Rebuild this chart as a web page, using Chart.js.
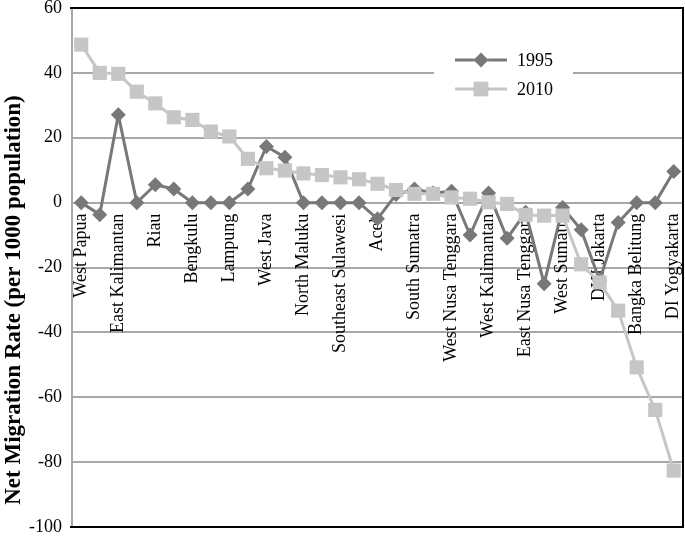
<!DOCTYPE html>
<html>
<head>
<style>
  body { margin: 0; background: #fff; }
  #wrap { width: 685px; height: 539px; }
</style>
</head>
<body>
  <div id="wrap">
    <canvas id="myChart"></canvas>
  </div>

<script src="https://cdnjs.cloudflare.com/ajax/libs/Chart.js/4.4.0/chart.umd.min.js"></script>

<script>
  // provinces, sorted by 2010 rate (only every other one is labelled on the axis)
  const provinces = [
    'West Papua', 'Papua', 'East Kalimantan', 'Riau Islands', 'Riau',
    'Central Kalimantan', 'Bengkulu', 'Banten', 'Lampung', 'Gorontalo',
    'West Java', 'Bali', 'North Maluku', 'West Sulawesi', 'Southeast Sulawesi',
    'Jambi', 'Aceh', 'South Kalimantan', 'South Sumatra', 'Central Sulawesi',
    'West Nusa Tenggara', 'North Sulawesi', 'West Kalimantan', 'South Sulawesi',
    'East Nusa Tenggara', 'Maluku', 'West Sumatra', 'North Sumatra',
    'DKI Jakarta', 'Central Java', 'Bangka Belitung', 'East Java', 'DI Yogyakarta'
  ]

  const rate1995 = [
    0, -3.7, 27.1, 0, 5.5, 4.2, 0, 0, 0, 4.2,
    17.3, 14.0, 0, 0, 0, 0, -5.0, 2.5, 4.2, 3.0,
    3.5, -10.0, 3.0, -11.0, -3.0, -25.0, -1.5, -8.4, -24.0, -6.1,
    0, 0, 9.6
  ]

  const rate2010 = [
    48.7, 40.0, 39.7, 34.2, 30.6, 26.3, 25.5, 21.9, 20.4, 13.5,
    10.6, 9.9, 9.0, 8.5, 7.8, 7.2, 5.8, 3.9, 2.7, 2.7,
    1.6, 1.2, 0.1, -0.4, -3.8, -4.0, -4.0, -19.0, -24.6, -33.3,
    -50.8, -63.9, -82.6
  ]

  const yTicks = [60, 40, 20, 0, -20, -40, -60, -80, -100]
  const seriesNames = ['1995', '2010']

  const dark = '#787878'
  const light = '#c6c6c6'
  const serif = "'Liberation Serif', 'Times New Roman', serif"

  // black frame on top / right / bottom, plus y title and the legend inside the plot
  const extras = {
    id: 'extras',
    afterDraw(chart) {
      const c = chart.ctx
      const a = chart.chartArea
      c.save()
      c.strokeStyle = '#000'
      c.lineWidth = 2
      c.beginPath()
      c.moveTo(a.left - 2, a.top)
      c.lineTo(a.right, a.top)
      c.lineTo(a.right, a.bottom)
      c.lineTo(a.left - 2, a.bottom)
      c.stroke()

      // axis title
      c.fillStyle = '#000'
      c.font = 'bold 23px ' + serif
      c.textAlign = 'center'
      c.textBaseline = 'middle'
      c.translate(14, 300)
      c.rotate(-Math.PI / 2)
      c.fillText('Net Migration Rate (per 1000 population)', 0, 0)
      c.restore()

      // legend
      c.save()
      c.fillStyle = '#fff'
      c.fillRect(434, 44, 139, 58)
      chart.data.datasets.forEach((ds, i) => {
        const y = 60 + i * 29
        c.strokeStyle = ds.borderColor
        c.lineWidth = 3
        c.beginPath()
        c.moveTo(455, y)
        c.lineTo(507, y)
        c.stroke()
        Chart.helpers.drawPoint(c, {
          pointStyle: ds.pointStyle,
          radius: ds.pointRadius,
          borderWidth: 0
        }, 481, y)
        c.fillStyle = ds.pointBackgroundColor
        c.fill()
        c.fillStyle = '#000'
        c.font = '18px ' + serif
        c.textAlign = 'left'
        c.textBaseline = 'middle'
        c.fillText(ds.label, 517, y + 1)
      })
      c.restore()
    }
  }

  const ctx = document.getElementById('myChart')

  new Chart(ctx, {
    type: 'line',
    data: {
      labels: provinces,
      datasets: [{
        label: seriesNames[0],
        data: rate1995,
        borderColor: dark,
        backgroundColor: dark,
        pointBackgroundColor: dark,
        pointBorderWidth: 0,
        borderWidth: 3,
        pointStyle: 'rectRot',
        pointRadius: 7.5,
        tension: 0,
        order: 1
      }, {
        label: seriesNames[1],
        data: rate2010,
        borderColor: light,
        backgroundColor: light,
        pointBackgroundColor: light,
        pointBorderWidth: 0,
        borderWidth: 3,
        pointStyle: 'rect',
        pointRadius: 10,
        tension: 0,
        order: 0
      }]
    },
    options: {
      responsive: true,
      maintainAspectRatio: false,
      animation: false,
      layout: { autoPadding: false, padding: { top: 8, right: 2, bottom: 12, left: 0 } },
      plugins: {
        legend: { display: false },
        tooltip: { enabled: false }
      },
      scales: {
        x: {
          type: 'category',
          offset: true,
          position: { y: 0 },
          afterFit: scale => {
            scale.paddingLeft = 0
            scale.paddingRight = 0
            scale.paddingTop = 0
            scale.paddingBottom = 0
          },
          grid: { display: false },
          border: { display: false },
          ticks: {
            autoSkip: false,
            minRotation: 90,
            maxRotation: 90,
            padding: 3,
            color: '#000',
            font: { family: serif, size: 18 },
            callback: (v, i) => (i % 2 === 0 ? provinces[i] : '')
          }
        },
        y: {
          min: -100,
          max: 60,
          afterFit: scale => {
            scale.width = 72
            scale.paddingTop = 0
            scale.paddingBottom = 0
            scale.paddingLeft = 0
            scale.paddingRight = 0
          },
          afterBuildTicks: scale => { scale.ticks = yTicks.map(v => ({ value: v })) },
          grid: {
            drawTicks: false,
            lineWidth: 2,
            color: c => (c.tick && (c.tick.value === 60 || c.tick.value === -100) ? '#000' : '#a8a8a8')
          },
          border: { display: true, color: '#a8a8a8', width: 2 },
          ticks: {
            padding: 10,
            color: '#000',
            font: { family: serif, size: 18 }
          }
        }
      }
    },
    plugins: [extras]
  })
</script>
</body>
</html>
